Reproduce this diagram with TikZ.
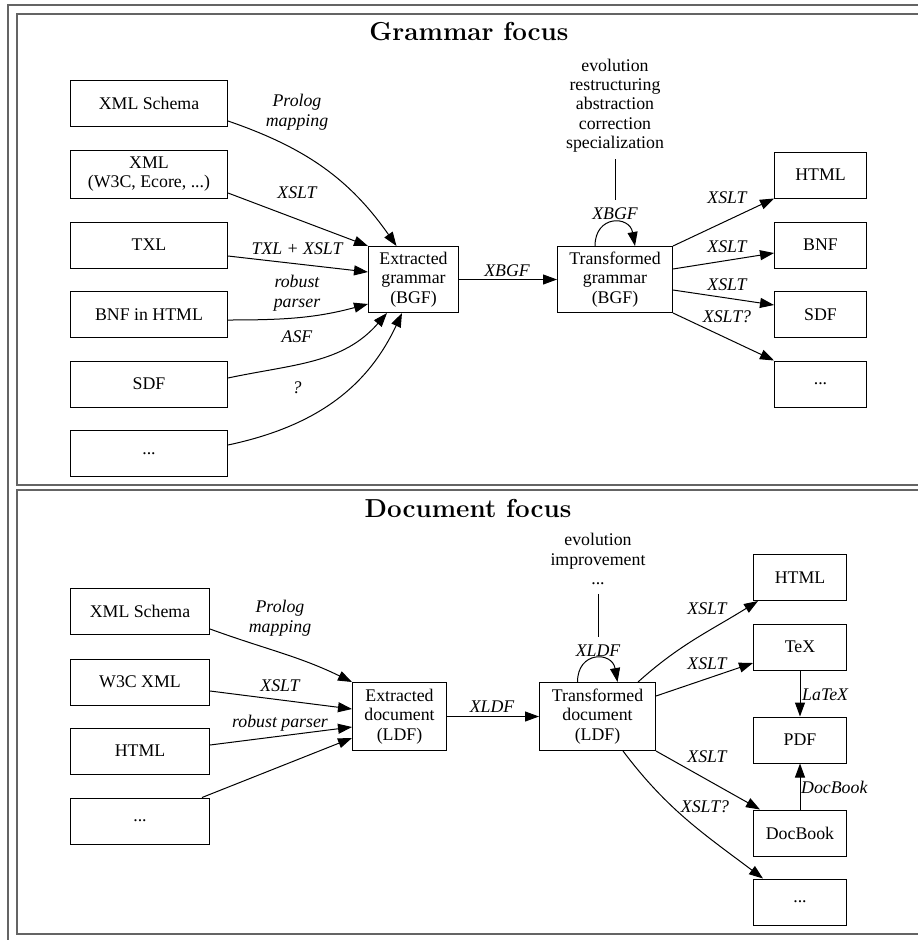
\documentclass[tikz,border=0pt]{standalone}
\usepackage{fontspec}
\newfontfamily\boxfont{Liberation Serif}
\usetikzlibrary{arrows.meta}
\definecolor{framegray}{RGB}{100,100,100}

\begin{document}
\begin{tikzpicture}[x=1pt, y=-1pt,
    box/.style={draw, line width=1pt, align=center, inner sep=2pt, minimum height=46pt,
        font=\boxfont\fontsize{17.8}{19.7}\selectfont},
    lbl/.style={inner sep=1pt, align=center, font=\boxfont\itshape\fontsize{17.8}{19.7}\selectfont},
    txt/.style={inner sep=5pt, align=center, font=\boxfont\fontsize{17.8}{19.3}\selectfont},
    paneltitle/.style={font=\fontsize{26}{30}\selectfont\bfseries},
    arr/.style={line width=1pt, -{Triangle[length=14pt,width=10pt]}},
    panelframe/.style={draw=framegray, line width=1.2pt}]
\path[use as bounding box, clip] (0,0) rectangle (918,940);
% Frames
\draw[panelframe] (8,950) -- (8,5) -- (930,5);
\draw[panelframe] (17,14) rectangle (930,485);
\draw[panelframe] (17,490) rectangle (930,934);
\node[paneltitle] (gtitle) at (469,32) {Grammar focus};
\node[paneltitle] (dtitle) at (468,508) {Document focus};
% Grammar focus: sources
\node[box, minimum width=157pt] (gxsd) at (149,103) {XML Schema};
\node[box, minimum width=157pt, minimum height=48pt] (gxml) at (149,174) {XML\\(W3C, Ecore, ...)};
\node[box, minimum width=157pt] (gtxl) at (149,245) {TXL};
\node[box, minimum width=157pt] (gbnf) at (149,314.5) {BNF in HTML};
\node[box, minimum width=157pt] (gsdf) at (149,384) {SDF};
\node[box, minimum width=157pt] (gmore) at (149,453.5) {...};
% Grammar focus: middle
\node[box, minimum width=90pt, minimum height=66pt] (gext) at (413.5,279.5) {Extracted\\grammar\\(BGF)};
\node[box, minimum width=115pt, minimum height=66pt] (gtrf) at (615,279.5) {Transformed\\grammar\\(BGF)};
\node[txt] (gops) at (615,105.5) {evolution\\restructuring\\abstraction\\correction\\specialization};
\node[lbl] (gxbgf) at (615,214) {XBGF};
% Grammar focus: targets
\node[box, minimum width=92pt] (ghtml) at (820.5,175) {HTML};
\node[box, minimum width=92pt] (gbnfo) at (820.5,245) {BNF};
\node[box, minimum width=92pt] (gsdfo) at (820.5,314.5) {SDF};
\node[box, minimum width=92pt] (gmoreo) at (820.5,384) {...};
% Grammar focus: edge labels
\node[lbl] (gl1) at (297,112) {Prolog\\mapping};
\node[lbl] (gl2) at (297,193) {XSLT};
\node[lbl] (gl3) at (297,249) {TXL + XSLT};
\node[lbl] (gl4) at (297,293) {robust\\parser};
\node[lbl] (gl5) at (297,337) {ASF};
\node[lbl] (gl6) at (297,388) {?};
\node[lbl] (gl7) at (507,271) {XBGF};
\node[lbl] (gl8) at (727,198) {XSLT};
\node[lbl] (gl9) at (727,247) {XSLT};
\node[lbl] (gl10) at (727,285) {XSLT};
\node[lbl] (gl11) at (727,317) {XSLT?};
% Grammar focus: edges
\draw[arr] ([yshift=-18pt]gxsd.east) to[out=-19,in=125] ([xshift=-17pt]gext.north);
\draw[arr] ([yshift=-19pt]gxml.east) -- (gext.north west);
\draw[arr] ([yshift=-11pt]gtxl.east) -- ([yshift=7.5pt]gext.west);
\draw[arr] ([yshift=-5.5pt]gbnf.east) to[out=0,in=195] ([yshift=-24.5pt]gext.west);
\draw[arr] ([yshift=6pt]gsdf.east) to[out=12,in=-131] ([xshift=-26.5pt]gext.south);
\draw[arr] ([yshift=8.5pt]gmore.east) to[out=12,in=-115] ([xshift=-11.5pt]gext.south);
\draw[arr] (gext) -- (gtrf);
\draw[arr] ([xshift=-20pt]gtrf.north) to[out=90,in=100,looseness=2] ([xshift=20pt]gtrf.north);
\draw[line width=1pt, shorten <=2pt, shorten >=7pt] (gops) -- (gxbgf);
\draw[arr] (gtrf.north east) -- (ghtml.south west);
\draw[arr] ([yshift=10.5pt]gtrf.east) -- ([yshift=-8pt]gbnfo.west);
\draw[arr] ([yshift=-10.5pt]gtrf.east) -- ([yshift=9.5pt]gsdfo.west);
\draw[arr] (gtrf.south east) -- (gmoreo.north west);
% Document focus: sources
\node[box, minimum width=139pt] (dxsd) at (140,611.5) {XML Schema};
\node[box, minimum width=139pt] (dw3c) at (140,682) {W3C XML};
\node[box, minimum width=139pt] (dhtml) at (140,751) {HTML};
\node[box, minimum width=139pt] (dmore) at (140,821) {...};
% Document focus: middle
\node[box, minimum width=94pt, minimum height=68pt] (dext) at (399.5,716.5) {Extracted\\document\\(LDF)};
\node[box, minimum width=116pt, minimum height=68pt] (dtrf) at (597.5,716.5) {Transformed\\document\\(LDF)};
\node[txt] (dops) at (598,559) {evolution\\improvement\\...};
\node[lbl] (dxldf) at (598,651) {XLDF};
% Document focus: targets
\node[box, minimum width=93pt] (dhtmlo) at (800,577.5) {HTML};
\node[box, minimum width=93pt] (dtex) at (800,647) {TeX};
\node[box, minimum width=93pt] (dpdf) at (800,740) {PDF};
\node[box, minimum width=93pt] (ddocb) at (800,833) {DocBook};
\node[box, minimum width=93pt] (dmoreo) at (800,902) {...};
% Document focus: edge labels
\node[lbl] (dl1) at (280,618) {Prolog\\mapping};
\node[lbl] (dl2) at (280,686) {XSLT};
\node[lbl] (dl3) at (280,723) {robust parser};
\node[lbl] (dl4) at (492,707) {XLDF};
\node[lbl] (dl5) at (707,609) {XSLT};
\node[lbl] (dl6) at (707,664) {XSLT};
\node[lbl, anchor=west] (dl7) at (801,695) {LaTeX};
\node[lbl, anchor=west] (dl8) at (800,787) {DocBook};
\node[lbl] (dl9) at (707,757) {XSLT};
\node[lbl] (dl10) at (705,807) {XSLT?};
% Document focus: edges
\draw[arr] ([yshift=-17.5pt]dxsd.east) to[out=-20,in=154] (dext.north west);
\draw[arr] ([yshift=-9pt]dw3c.east) -- ([yshift=7.5pt]dext.west);
\draw[arr] ([yshift=6pt]dhtml.east) -- ([yshift=-10.5pt]dext.west);
\draw[arr] ([xshift=-8pt]dmore.north east) -- ([yshift=-21.5pt]dext.west);
\draw[arr] (dext) -- (dtrf);
\draw[arr] ([xshift=-20pt]dtrf.north) to[out=90,in=100,looseness=2] ([xshift=20pt]dtrf.north);
\draw[line width=1pt, shorten <=4pt, shorten >=7pt] (dops) -- (dxldf);
\draw[arr] ([xshift=40.5pt]dtrf.north) to[out=42,in=212] ([xshift=5pt]dhtmlo.south west);
\draw[arr] ([yshift=20.5pt]dtrf.east) -- ([yshift=-16pt]dtex.west);
\draw[arr] (dtex) -- (dpdf);
\draw[arr] (dtrf.south east) -- ([xshift=7pt]ddocb.north west);
\draw[arr] (ddocb) -- (dpdf);
\draw[arr] ([xshift=25.5pt]dtrf.south) to[out=-53,in=143] ([xshift=10pt]dmoreo.north west);
\end{tikzpicture}
\end{document}
